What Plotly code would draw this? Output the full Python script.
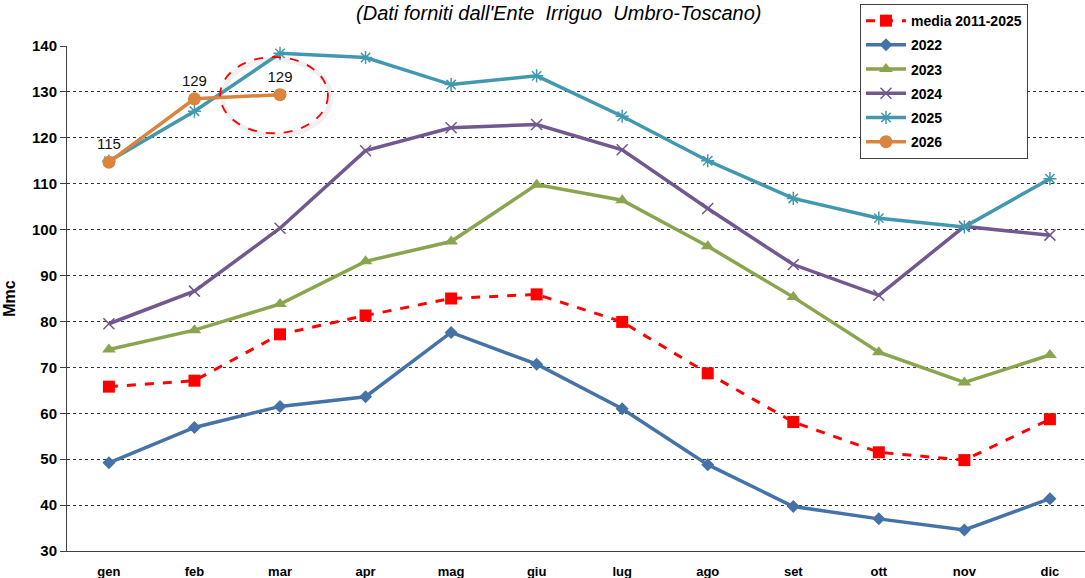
import plotly.graph_objects as go

months = ["gen", "feb", "mar", "apr", "mag", "giu", "lug", "ago", "set", "ott", "nov", "dic"]
media = [65.8, 67.1, 77.2, 81.3, 85.0, 85.9, 79.9, 68.7, 58.1, 51.5, 49.8, 58.7]
y2022 = [49.2, 56.9, 61.5, 63.6, 77.6, 70.7, 61.0, 48.8, 39.7, 37.0, 34.6, 41.4]
y2023 = [73.9, 78.1, 83.8, 93.1, 97.4, 109.8, 106.4, 96.4, 85.3, 73.3, 66.7, 72.7]
y2024 = [79.5, 86.6, 100.3, 117.2, 122.2, 122.9, 117.4, 104.6, 92.4, 85.7, 100.7, 98.8]
y2025 = [114.9, 125.8, 138.4, 137.5, 131.6, 133.5, 124.7, 115.0, 106.8, 102.5, 100.6, 111.1]
months2026 = ["gen", "feb", "mar"]
y2026 = [114.7, 128.5, 129.4]
labels2026 = ["115", "129", "129"]

fig = go.Figure()

fig.add_trace(go.Scatter(x=months, y=media, name="media 2011-2025", mode="lines+markers",
                         line=dict(color="#FF0000", width=3, dash="dash"),
                         marker=dict(symbol="square", size=12, color="#FF0000"),
                         legendgroup="a"))
fig.add_trace(go.Scatter(x=months, y=y2022, name="2022", mode="lines+markers",
                         line=dict(color="#4572A7", width=3.5),
                         marker=dict(symbol="diamond", size=10, color="#4572A7"),
                         legendgroup="b"))
fig.add_trace(go.Scatter(x=months, y=y2023, name="2023", mode="lines+markers",
                         line=dict(color="#89A54E", width=3.5),
                         marker=dict(symbol="triangle-up", size=12, color="#89A54E"),
                         legendgroup="c"))
fig.add_trace(go.Scatter(x=months, y=y2024, name="2024", mode="lines+markers",
                         line=dict(color="#71588F", width=3.5),
                         marker=dict(symbol="x-thin", size=11, color="#71588F",
                                     line=dict(color="#71588F", width=1.5)),
                         legendgroup="d"))
fig.add_trace(go.Scatter(x=months, y=y2025, name="2025", mode="lines+markers",
                         line=dict(color="#4198AF", width=3.5),
                         marker=dict(symbol="asterisk", size=11, color="#4198AF",
                                     line=dict(color="#4198AF", width=1.5)),
                         legendgroup="e"))
fig.add_trace(go.Scatter(x=months2026, y=y2026, name="2026", mode="lines+markers+text",
                         text=labels2026, textposition="top center",
                         textfont=dict(family="Arial, Liberation Sans", size=15, color="#111111"),
                         line=dict(color="#DB843D", width=3.5),
                         marker=dict(symbol="circle", size=13, color="#DB843D"),
                         legendgroup="f"))

# highlight ellipse around the latest value
cx, cy = 2, y2026[-1]
fig.add_shape(type="circle", xref="x", yref="y",
              x0=cx - 0.67, x1=cx + 0.59, y0=cy - 8.9, y1=cy + 7.7,
              line=dict(color="rgba(0,0,0,0.06)", width=5), layer="below")
fig.add_shape(type="circle", xref="x", yref="y",
              x0=cx - 0.70, x1=cx + 0.56, y0=cy - 8.4, y1=cy + 8.2,
              line=dict(color="#FF0000", width=1.8, dash="dash"))

fig.update_layout(
    width=1085, height=578,
    margin=dict(l=67, r=0, t=46, b=27, autoexpand=False),
    paper_bgcolor="white", plot_bgcolor="white",
    font=dict(family="Arial, Liberation Sans, sans-serif", color="#000000"),
    title=dict(text="<i>(Dati forniti dall'Ente  Irriguo  Umbro-Toscano)</i>",
               x=0.515, xanchor="center", y=0.9775, yanchor="middle",
               font=dict(size=20, color="#000000")),
    showlegend=True,
    legend=dict(xref="container", yref="container", x=0.7926, y=0.993,
                xanchor="left", yanchor="top",
                bgcolor="white", bordercolor="#404040", borderwidth=1,
                font=dict(size=14, color="#000000", family="Arial, Liberation Sans"),
                tracegroupgap=3, itemwidth=40),
    xaxis=dict(type="category", categoryorder="array", categoryarray=months,
               range=[-0.49, 11.41], showgrid=False, showline=True, linecolor="#404040",
               linewidth=1, ticks="", ticklabelstandoff=8, automargin=False,
               tickfont=dict(size=13, color="#000000"), zeroline=False),
    yaxis=dict(range=[30, 140], dtick=10, tick0=30, showgrid=True, gridcolor="#333333",
               griddash="dot", gridwidth=1, showline=True, linecolor="#404040", linewidth=1,
               ticks="outside", ticklen=6, tickcolor="#404040", automargin=False,
               tickfont=dict(size=15, color="#000000"), zeroline=False,
               title=dict(text="<b>Mmc</b>", font=dict(size=16, color="#000000"), standoff=12)),
)

# bold tick labels
fig.update_xaxes(tickvals=months, ticktext=["<b>%s</b>" % m for m in months])
yt = list(range(30, 141, 10))
fig.update_yaxes(tickvals=yt, ticktext=["<b>%d</b>" % v for v in yt])
for tr in fig.data:
    tr.name = "<b>%s</b>" % tr.name

fig.write_html("out.html", config={"displayModeBar": False},
               post_script="document.body.style.margin='0';document.body.style.padding='0';"
                           "document.body.style.overflow='hidden';")
